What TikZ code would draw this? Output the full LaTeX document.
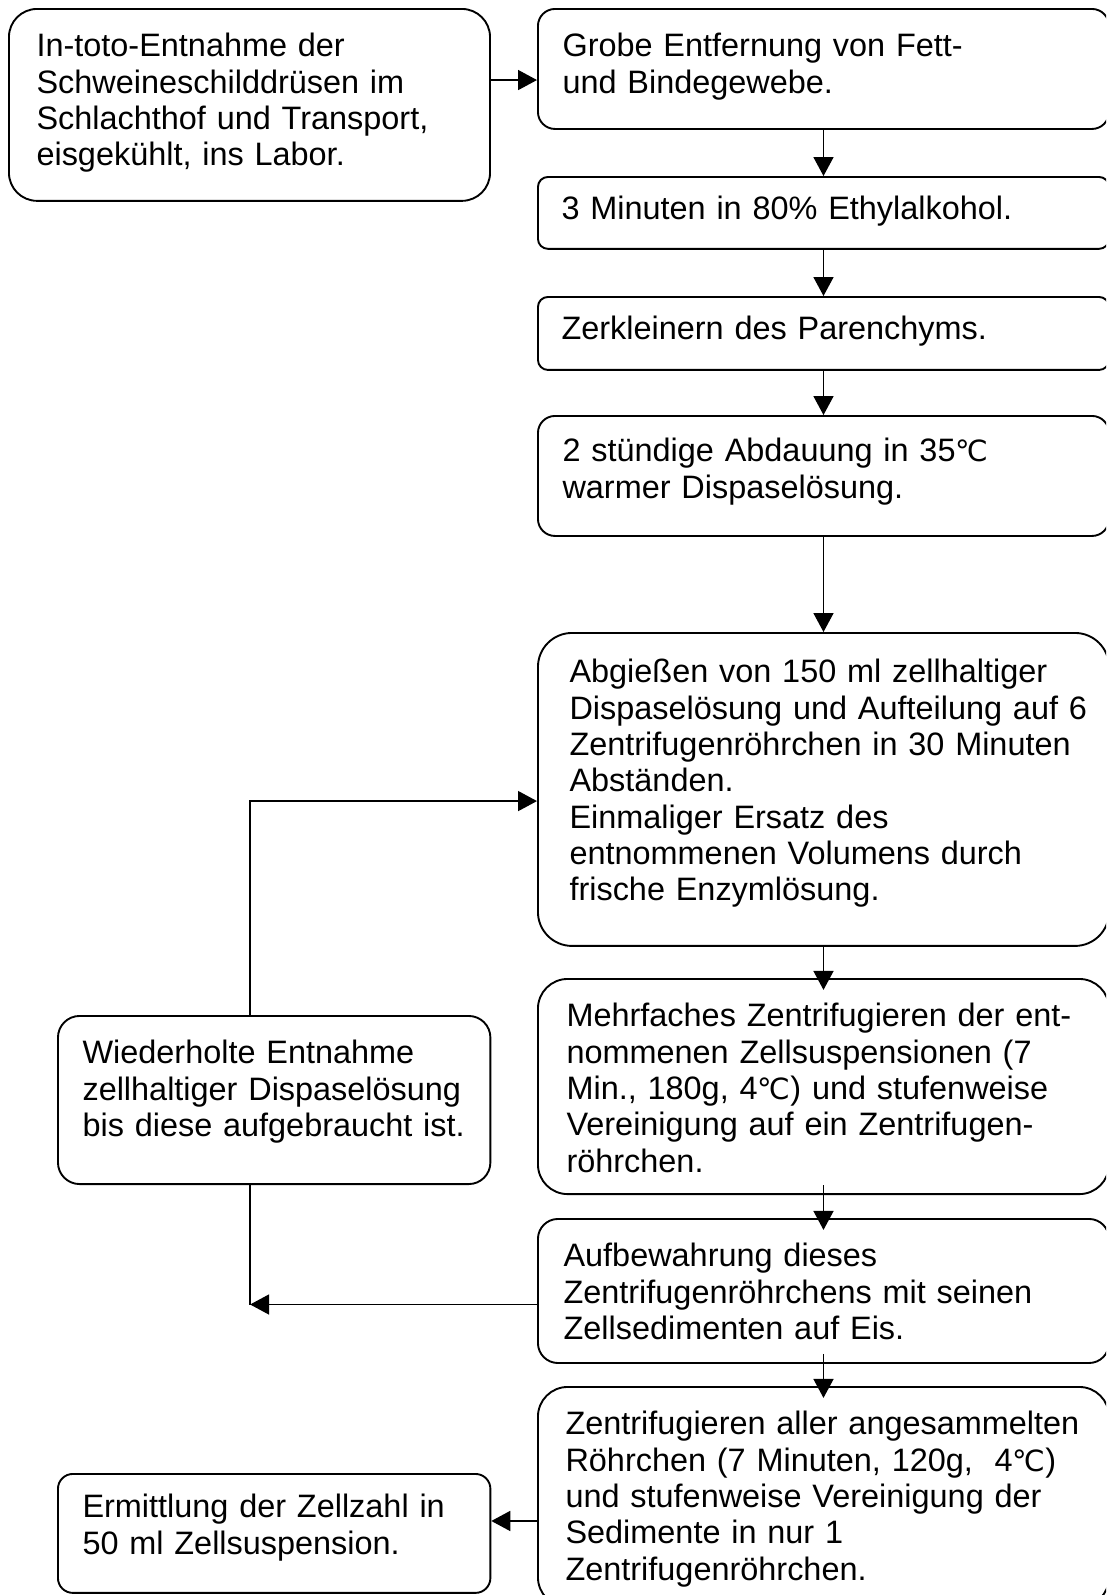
\documentclass[tikz,border=0pt]{standalone}
\usepackage{fontspec}
\setmainfont{Liberation Sans}
\newfontfamily\zeichenfont{DejaVu Sans}[Scale=0.9]
\usetikzlibrary{arrows.meta}
\newcommand{\gradC}{{\zeichenfont ℃}}
\tikzset{
  stepbox/.style={draw, line width=0.7pt, rounded corners=#1, anchor=north west, inner sep=0pt},
  stepbox/.default=4pt,
  steptext/.style={anchor=north west, inner sep=0pt, text width=250pt, align=left,
    text height=8.6pt, font=\fontsize{12}{13.45}\selectfont},
  flow/.style={-{Triangle[length=7pt,width=7.4pt]}, line width=0.5pt},
}

\begin{document}
\begin{tikzpicture}[x=0.37pt, y=-0.37pt]
\useasboundingbox (0,0) rectangle (1106,1595);
\clip (0,0) rectangle (1106,1595);

% left column
\node[stepbox=10.4pt, minimum width=178pt, minimum height=71pt] (entnahme) at (8,8) {};
\node[steptext] (entnahme text) at ([shift={(28,25)}]entnahme.north west)
  {In-toto-Entnahme der\\Schweineschilddrüsen im\\Schlachthof und Transport,\\eisgekühlt, ins Labor.};
\node[stepbox=8pt, minimum width=160pt, minimum height=62.2pt] (wiederholt) at (57,1015) {};
\node[steptext] (wiederholt text) at ([shift={(25,25)}]wiederholt.north west)
  {Wiederholte Entnahme\\zellhaltiger Dispaselösung\\bis diese aufgebraucht ist.};
\node[stepbox=5.5pt, minimum width=160pt, minimum height=44pt] (ermittlung) at (57,1473) {};
\node[steptext] (ermittlung text) at ([shift={(25,21)}]ermittlung.north west)
  {Ermittlung der Zellzahl in\\50 ml Zellsuspension.};

% right column
\node[stepbox=6.3pt, minimum width=211.3pt, minimum height=44.4pt] (grob) at (537,8) {};
\node[steptext] (grob text) at ([shift={(25,25)}]grob.north west)
  {Grobe Entfernung von Fett-\\und Bindegewebe.};
\node[stepbox=3.7pt, minimum width=211.3pt, minimum height=26.6pt] (alkohol) at (537,176) {};
\node[steptext] (alkohol text) at ([shift={(24,20)}]alkohol.north west)
  {3 Minuten in 80\% Ethylalkohol.};
\node[stepbox=3.7pt, minimum width=211.3pt, minimum height=27pt] (zerkleinern) at (537,296) {};
\node[steptext] (zerkleinern text) at ([shift={(24,20)}]zerkleinern.north west)
  {Zerkleinern des Parenchyms.};
\node[stepbox=6.3pt, minimum width=211.3pt, minimum height=44.4pt] (abdauung) at (537,415) {};
\node[steptext] (abdauung text) at ([shift={(25,23)}]abdauung.north west)
  {2 stündige Abdauung in 35\gradC\\warmer Dispaselösung.};
\node[stepbox=12.6pt, minimum width=211.3pt, minimum height=115.8pt] (abgiessen) at (537,632) {};
\node[steptext] (abgiessen text) at ([shift={(32,27)}]abgiessen.north west)
  {Abgießen von 150 ml zellhaltiger\\Dispaselösung und Aufteilung auf 6\\Zentrifugenröhrchen in 30 Minuten\\Abständen.\\Einmaliger Ersatz des\\entnommenen Volumens durch\\frische Enzymlösung.};
\node[stepbox=11pt, minimum width=211.3pt, minimum height=79.6pt] (zentrifugieren) at (537,978) {};
\node[steptext] (zentrifugieren text) at ([shift={(29,25)}]zentrifugieren.north west)
  {Mehrfaches Zentrifugieren der ent-\\nommenen Zellsuspensionen (7\\Min., 180g, 4\gradC) und stufenweise\\Vereinigung auf ein Zentrifugen-\\röhrchen.};
\node[stepbox=7.4pt, minimum width=211.3pt, minimum height=53.3pt] (aufbewahrung) at (537,1218) {};
\node[steptext] (aufbewahrung text) at ([shift={(26,25)}]aufbewahrung.north west)
  {Aufbewahrung dieses\\Zentrifugenröhrchens mit seinen\\Zellsedimenten auf Eis.};
\node[stepbox=11pt, minimum width=211.3pt, minimum height=81.4pt] (sammeln) at (537,1386) {};
\node[steptext] (sammeln text) at ([shift={(28,25)}]sammeln.north west)
  {Zentrifugieren aller angesammelten\\Röhrchen (7 Minuten, 120g,\ \ 4\gradC)\\und stufenweise Vereinigung der\\Sedimente in nur 1\\Zentrifugenröhrchen.};

% arrow points
\path ([yshift=-4.1pt]grob.west) coordinate (grob in)
      ([yshift=4.6pt]ermittlung.east) coordinate (ermittlung in)
      ([yshift=-4.3pt]abgiessen.west) coordinate (loop in)
      ([yshift=-5pt]aufbewahrung.west) coordinate (loop out)
      ([xshift=-8.9pt]wiederholt.north) coordinate (loop top)
      ([xshift=-8.9pt]wiederholt.south) coordinate (loop bottom);

% main flow
\draw[flow] (entnahme.east |- grob in) -- (grob in);
\draw[flow] (grob.south) -- (alkohol.north);
\draw[flow] (alkohol.south) -- (zerkleinern.north);
\draw[flow] (zerkleinern.south) -- (abdauung.north);
\draw[flow] (abdauung.south) -- (abgiessen.north);
\draw[flow, shorten >=-4.4pt] (abgiessen.south) -- (zentrifugieren.north);
\draw[flow, shorten <=-3.7pt, shorten >=-4.4pt] (zentrifugieren.south) -- (aufbewahrung.north);
\draw[flow, shorten <=-3.7pt, shorten >=-4.4pt] (aufbewahrung.south) -- (sammeln.north);
\draw[flow] (sammeln.west |- ermittlung in) -- (ermittlung in);

% repeat loop
\draw[flow] (loop top) |- (loop in);
\draw[line width=0.5pt] (loop bottom) -- (loop bottom |- loop out);
\draw[flow] (loop out) -- (loop bottom |- loop out);

\end{tikzpicture}
\end{document}
